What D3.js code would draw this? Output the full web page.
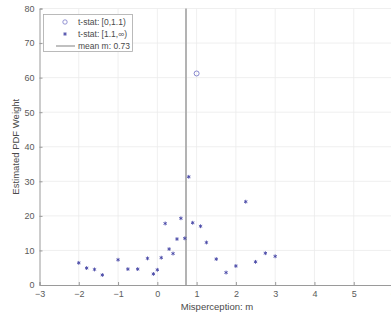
<!DOCTYPE html>
<html>
<head>
<meta charset="utf-8">
<script src="https://cdn.jsdelivr.net/npm/d3@7"></script>
<style>
  body { margin: 0; background: #fff; }
  svg { display: block; font-family: "Liberation Sans", Arial, sans-serif; }
</style>
</head>
<body>
<div id="chart"></div>
<script>
// t-stat in [1.1, inf): star markers
const starM = [-2, -1.8, -1.6, -1.4, -1, -0.75, -0.5, -0.25, -0.1, 0, 0.1, 0.2, 0.3, 0.4, 0.5, 0.6, 0.7, 0.8, 0.9, 1.1, 1.25, 1.5, 1.75, 2, 2.25, 2.5, 2.75, 3];
const starW = [6.4, 4.9, 4.5, 2.9, 7.3, 4.6, 4.6, 7.7, 3.2, 4.4, 7.9, 17.8, 10.4, 9.1, 13.3, 19.3, 13.5, 31.3, 18.0, 17.0, 12.3, 7.5, 3.6, 5.5, 24.1, 6.7, 9.2, 8.3];
// t-stat in [0, 1.1): circle markers
const circM = [1.0];
const circW = [61.2];
const meanM = 0.73;
const xTicks = [-3, -2, -1, 0, 1, 2, 3, 4, 5, 6];
const yTicks = [0, 10, 20, 30, 40, 50, 60, 70, 80];
const legendLabels = ["t-stat: [0,1.1)", "t-stat: [1.1,\u221E)", "mean m: 0.73"];

const W = 391, H = 320;
const svg = d3.select("#chart").append("svg").attr("width", W).attr("height", H);

const x = d3.scaleLinear().domain([-3, 6]).range([39.5, 393]);
const y = d3.scaleLinear().domain([0, 80]).range([285, 8.5]);

const markColor = "#4646a6";
const axisColor = "#9a9a9a";

// grid
const grid = svg.append("g");
grid.selectAll(".gx").data(xTicks.slice(1)).enter().append("line")
  .attr("x1", d => x(d)).attr("x2", d => x(d)).attr("y1", y(0)).attr("y2", y(80))
  .attr("stroke", "#ebebeb").attr("stroke-width", 0.8);
grid.selectAll(".gy").data(yTicks.slice(1)).enter().append("line")
  .attr("x1", x(-3)).attr("x2", x(6)).attr("y1", d => y(d)).attr("y2", d => y(d))
  .attr("stroke", "#ebebeb").attr("stroke-width", 0.8);

// axes
const xAxis = svg.append("g").attr("transform", `translate(0,${y(0)})`)
  .call(d3.axisBottom(x).tickValues(xTicks).tickSize(-3).tickPadding(6).tickFormat(d3.format("d")));
const yAxis = svg.append("g").attr("transform", `translate(${x(-3)},0)`)
  .call(d3.axisLeft(y).tickValues(yTicks).tickSize(-3).tickPadding(5).tickFormat(d3.format("d")));
[xAxis, yAxis].forEach(a => {
  a.select(".domain").attr("stroke", axisColor);
  a.selectAll(".tick line").attr("stroke", axisColor);
  a.selectAll(".tick text").attr("fill", "#5a5a5a").style("font-size", "9px");
});

svg.append("text").attr("x", 217).attr("y", 310).attr("text-anchor", "middle")
  .attr("fill", "#4a4a4a").style("font-size", "9.5px").text("Misperception: m");
svg.append("text").attr("transform", `translate(19,${(y(0) + y(80)) / 2}) rotate(-90)`)
  .attr("text-anchor", "middle").attr("fill", "#4a4a4a").style("font-size", "9.5px")
  .text("Estimated PDF Weight");

// mean line
svg.append("line").attr("x1", x(meanM)).attr("x2", x(meanM)).attr("y1", y(0)).attr("y2", y(80))
  .attr("stroke", "#ababab").attr("stroke-width", 1.8);

// star markers
const star = d3.symbol().type(d3.symbolAsterisk).size(10);
svg.selectAll(".star").data(starM).enter().append("path")
  .attr("d", star)
  .attr("transform", (d, i) => `translate(${x(d)},${y(starW[i])})`)
  .attr("fill", "none").attr("stroke", markColor).attr("stroke-width", 0.9);

svg.selectAll(".circ").data(circM).enter().append("circle")
  .attr("cx", d => x(d)).attr("cy", (d, i) => y(circW[i])).attr("r", 2.5)
  .attr("fill", "none").attr("stroke", "#7a7ac8").attr("stroke-width", 0.9);

// legend
const lg = svg.append("g");
lg.append("rect").attr("x", 43.5).attr("y", 14.5).attr("width", 89).attr("height", 37)
  .attr("fill", "#fff").attr("stroke", "#aaa").attr("stroke-width", 0.8);
const rowY = [22, 34, 46];
lg.append("circle").attr("cx", 65).attr("cy", rowY[0]).attr("r", 2.2)
  .attr("fill", "none").attr("stroke", "#7a7ac8").attr("stroke-width", 0.8);
lg.append("path").attr("d", star).attr("transform", `translate(65,${rowY[1]})`)
  .attr("fill", "none").attr("stroke", markColor).attr("stroke-width", 0.9);
lg.append("line").attr("x1", 56).attr("x2", 75).attr("y1", rowY[2]).attr("y2", rowY[2])
  .attr("stroke", "#ababab").attr("stroke-width", 1.5);
lg.selectAll(".lt").data(legendLabels).enter().append("text")
  .attr("x", 78).attr("y", (d, i) => rowY[i] + 3)
  .attr("fill", "#4a4a4a").style("font-size", "8.5px").text(d => d);
</script>
</body>
</html>
